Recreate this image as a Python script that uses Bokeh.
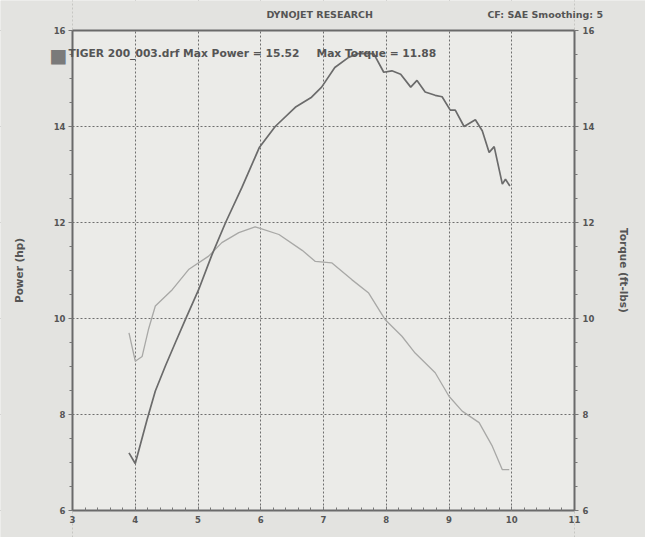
from bokeh.plotting import figure
from bokeh.models import (ColumnDataSource, LinearAxis, Range1d, Label, FixedTicker,
                          SingleIntervalTicker)
from bokeh.embed import file_html
from bokeh.resources import INLINE

# engine speed in thousands of rpm
power_rpm = [3.90, 4.00, 4.19, 4.32, 4.48, 4.64, 4.80, 5.01, 5.22, 5.44, 5.70, 5.98,
             6.23, 6.55, 6.81, 6.97, 7.18, 7.40, 7.55, 7.80, 7.96, 8.09, 8.23, 8.39,
             8.49, 8.62, 8.78, 8.89, 9.02, 9.10, 9.24, 9.42, 9.53, 9.64, 9.72, 9.85,
             9.90, 9.97]
power_hp = [7.20, 6.98, 7.90, 8.49, 9.01, 9.50, 9.98, 10.60, 11.32, 12.00, 12.73, 13.57,
            14.00, 14.40, 14.61, 14.82, 15.23, 15.44, 15.52, 15.52, 15.13, 15.16, 15.09, 14.82,
            14.96, 14.72, 14.65, 14.62, 14.34, 14.34, 14.00, 14.14, 13.91, 13.46, 13.58, 12.80,
            12.90, 12.76]

torque_rpm = [3.90, 4.00, 4.11, 4.21, 4.32, 4.59, 4.85, 5.17, 5.38, 5.65, 5.91, 5.99,
              6.29, 6.66, 6.87, 7.13, 7.45, 7.72, 7.98, 8.25, 8.46, 8.78, 9.00, 9.21,
              9.48, 9.69, 9.85, 9.96]
torque_ftlb = [9.70, 9.11, 9.21, 9.77, 10.26, 10.60, 11.02, 11.30, 11.58, 11.79, 11.91, 11.88,
               11.75, 11.42, 11.19, 11.16, 10.81, 10.53, 9.98, 9.63, 9.28, 8.87, 8.38, 8.07,
               7.83, 7.34, 6.85, 6.85]

run_name = "TIGER 200_003.drf"
max_power = 15.52
max_torque = 11.88
header = {6.94: "DYNOJET RESEARCH", 10.56: "CF: SAE  Smoothing: 5"}

ink = "#555555"
frame_ink = "#6a6a6a"
paper = "#e3e3e0"
font = "DejaVu Sans"

# the frame fills the whole page so nothing is cut at its edge; all four axes
# are pinned to the chart box, which sits at x 72..574, y 30..510
px_x = 502 / 8
px_y = 480 / 10
x_start = 3 - 72 / px_x
x_end = 11 + 71 / px_x
y_lo = 6 - 27 / px_y
y_hi = 16 + 30 / px_y

p = figure(width=645, height=537, x_range=(x_start, x_end), y_range=(y_lo, y_hi),
           output_backend="svg", toolbar_location=None,
           min_border_left=0, min_border_right=0, min_border_top=0, min_border_bottom=0)
p.background_fill_color = paper
p.border_fill_color = paper
p.outline_line_color = None

# torque shares the same 6-16 scale on the right
p.extra_y_ranges = {"torque": Range1d(y_lo, y_hi)}

p.xaxis.ticker = SingleIntervalTicker(interval=1, num_minor_ticks=5)
p.xgrid.ticker = SingleIntervalTicker(interval=1)
p.yaxis.ticker = SingleIntervalTicker(interval=2, num_minor_ticks=4)
p.ygrid.ticker = SingleIntervalTicker(interval=2)

for g in p.grid:
    g.grid_line_color = "#6e6e6e"
    g.grid_line_dash = "2 2"
    g.grid_line_width = 1

p.xaxis.fixed_location = 6
p.xaxis.bounds = (3, 11)
p.xaxis.axis_line_color = frame_ink
p.xaxis.axis_line_width = 2
p.xaxis.major_tick_out = 0
p.xaxis.major_tick_in = 4
p.xaxis.minor_tick_out = 0
p.xaxis.minor_tick_in = 3
p.xaxis.major_tick_line_color = "#777777"
p.xaxis.minor_tick_line_color = "#777777"
p.xaxis.major_label_standoff = 5

p.yaxis.fixed_location = 3
p.yaxis.bounds = (6, 16)
p.yaxis.axis_label = "Power (hp)"
p.yaxis.axis_label_standoff = 26
p.yaxis.axis_line_color = frame_ink
p.yaxis.axis_line_width = 2
p.yaxis.major_tick_out = 4
p.yaxis.major_tick_in = 0
p.yaxis.minor_tick_out = 3
p.yaxis.minor_tick_in = 0
p.yaxis.major_tick_line_color = "#777777"
p.yaxis.minor_tick_line_color = "#777777"
p.yaxis.major_label_standoff = 3

right = LinearAxis(y_range_name="torque", axis_label="Torque (ft-lbs)", bounds=(6, 16),
                   ticker=SingleIntervalTicker(interval=2, num_minor_ticks=4),
                   fixed_location=11)
right.axis_label_standoff = 21
right.axis_line_color = frame_ink
right.axis_line_width = 2
right.major_tick_out = 4
right.major_tick_in = 0
right.minor_tick_out = 3
right.minor_tick_in = 0
right.major_tick_line_color = "#777777"
right.minor_tick_line_color = "#777777"
right.major_label_standoff = 4
p.add_layout(right, "right")

for ax in p.xaxis + p.yaxis + [right]:
    ax.major_label_text_font = font
    ax.major_label_text_font_style = "bold"
    ax.major_label_text_font_size = "8.5px"
    ax.major_label_text_color = ink
    ax.axis_label_text_font = font
    ax.axis_label_text_font_style = "bold"
    ax.axis_label_text_font_size = "10.5px"
    ax.axis_label_text_color = ink

# header line: an axis pinned at the top with two labelled ticks; its line closes the box
top = LinearAxis(ticker=FixedTicker(ticks=list(header.keys()), minor_ticks=[]),
                 major_label_overrides=header, bounds=(3, 11), fixed_location=16)
top.axis_line_color = frame_ink
top.axis_line_width = 2
top.major_tick_line_color = None
top.minor_tick_line_color = None
top.major_tick_out = 0
top.major_tick_in = 0
top.major_label_standoff = 11
top.major_label_text_font = font
top.major_label_text_font_style = "bold"
top.major_label_text_font_size = "9.5px"
top.major_label_text_color = ink
p.add_layout(top, "above")

# chart paper inside the axes, then page colour over the grid outside them
p.quad(left=[3], right=[11], bottom=[6], top=[16], fill_color="#ebebe8",
       line_color=None, level="image")
p.quad(left=[x_start, 11, 3, 3], right=[3, x_end, 11, 11],
       bottom=[y_lo, y_lo, 16, y_lo], top=[y_hi, y_hi, y_hi, 6],
       fill_color=paper, line_color=None)

power_source = ColumnDataSource(data=dict(rpm=power_rpm, hp=power_hp))
torque_source = ColumnDataSource(data=dict(rpm=torque_rpm, tq=torque_ftlb))

p.line("rpm", "tq", source=torque_source, line_color="#a8a8a6", line_width=1.3,
       y_range_name="torque")
p.line("rpm", "hp", source=power_source, line_color="#6b6b6b", line_width=1.7)

# run legend, in pixels from the page's lower left corner
def note(x, y, text, size="10.7px", color=ink, bold=True, align="left"):
    p.add_layout(Label(x=x, y=y, x_units="screen", y_units="screen", text=text,
                       text_align=align, text_baseline="middle", text_font=font,
                       text_font_style="bold" if bold else "normal",
                       text_font_size=size, text_color=color))

note(58, 483, "\u25a0", size="19px", color="#7a7a7a", bold=False, align="center")
note(68, 484, "%s Max Power = %.2f" % (run_name, max_power))
note(316, 484, "Max Torque = %.2f" % max_torque)

open("out.html", "w").write(file_html(p, INLINE))
